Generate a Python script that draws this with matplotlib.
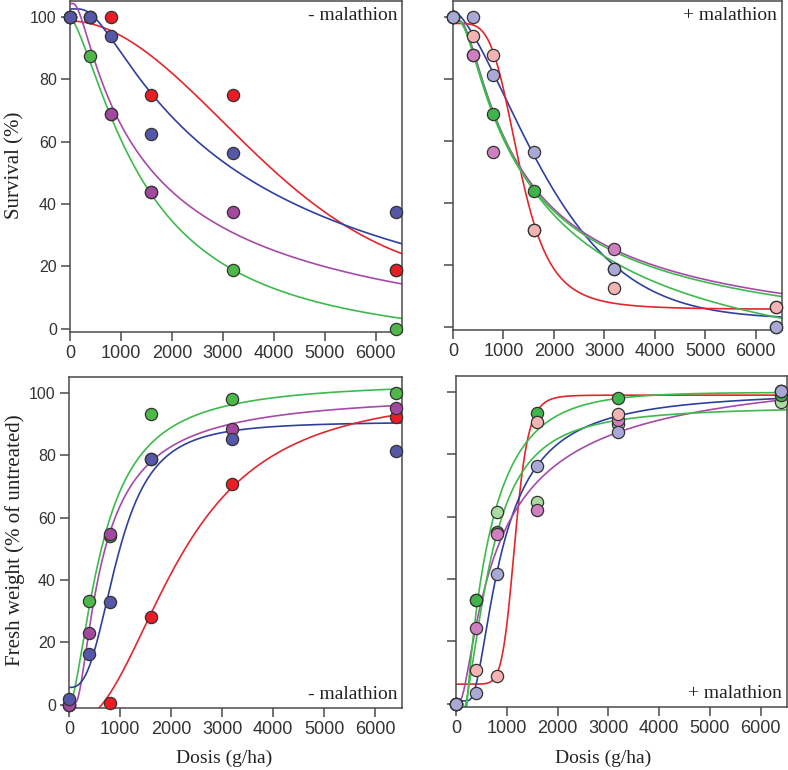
import numpy as np
import matplotlib
matplotlib.use("Agg")
import matplotlib.pyplot as plt

# doses used in every panel (g/ha)
DOSES = [0, 400, 800, 1600, 3200, 6400]

nan = np.nan
surv_minus_green = [100, 87.5, 68.75, 43.75, 18.75, 0]
surv_minus_purple = [100, 100, 68.75, 43.75, 37.5, 18.75]
surv_minus_red = [100, 100, 100, 75, 75, 18.75]
surv_minus_blue = [100, 100, 93.75, 62.5, 56.25, 37.5]

surv_plus_green = [100, 87.5, 68.75, 43.75, 18.75, 0]
surv_plus_orchid = [100, 87.5, 56.25, 31.25, 25, 6.25]
surv_plus_pink = [100, 93.75, 87.5, 31.25, 12.5, 6.25]
surv_plus_lavender = [100, 100, 81.25, 56.25, 18.75, 0]

fw_minus_red = [0, nan, 0.5, 28.3, 70.6, 92.2]
fw_minus_green = [0, 33.4, 54.0, 93.0, 97.9, 99.8]
fw_minus_purple = [0, 23.0, 54.8, 78.6, 88.4, 95.0]
fw_minus_blue = [1.9, 16.4, 32.9, 78.6, 85.0, 81.3]

fw_plus_lightgreen = [0, 33.4, 61.5, 64.7, 89.6, 96.6]
fw_plus_darkgreen = [0, 33.4, 54.9, 93.3, 97.9, 99.0]
fw_plus_orchid = [0, 24.4, 54.5, 62.0, 91.0, 100.3]
fw_plus_pink = [0, 10.7, 8.8, 90.4, 92.7, 100.3]
fw_plus_lavender = [0, 3.5, 41.5, 76.1, 87.2, 100.3]

# ---- fitted dose-response curves: (model, b, e, c, d) ----
# y = c + (d - c) * g(x);  LL: 1/(1+(x/e)^b), W1: exp(-(x/e)^b), W2: 1-exp(-(x/e)^b)
fit_surv_minus = {
    "red": ("W1", 1.933, 4376, 14.36, 98.59),
    "blue": ("W1", -0.751, 2905, 102.47, -27.26),
    "purple": ("W1", -0.686, 1240, 104.21, -19.53),
    "green": ("LL", 1.410, 1498, -8.80, 99.86),
}
fit_surv_plus = {
    "blue": ("W2", 1.475, 2187, 101.91, 2.53),
    "red": ("LL", 4.345, 1321, 5.65, 97.78),
    "purple": ("W1", -0.899, 1059, 98.88, -8.28),
    "green": ("W1", -0.860, 1059, 98.89, -11.00),
    "green2": ("W1", -0.786, 1280, 98.74, -28.02),
}
fit_fw_minus = {
    "green": ("LL", -1.614, 660, -0.39, 103.74),
    "purple": ("W2", -1.232, 529, 100.39, 0.29),
    "blue": ("LL", -2.770, 964, 5.58, 90.72),
    "red": ("LL", -2.314, 2187, -5.86, 101.09),
}
fit_fw_plus = {
    "red": ("LL", -8.926, 1164, 6.31, 98.87),
    "blue": ("W2", -1.689, 749, 100.43, 0.94),
    "purple": ("W2", -0.860, 640, 111.59, 0.70),
    "green": ("W2", 0.751, 425, -82.15, 99.77),
    "green2": ("LL", -1.933, 640, -9.34, 95.33),
}

LINE_COL = {"red": "#e3262b", "blue": "#2f3f9f", "green": "#3dba4b",
            "green2": "#3dba4b", "purple": "#a64aa9"}
MK_DARK = {"green": "#4db848", "purple": "#a2489f", "red": "#ec1c24", "blue": "#5558a8"}
MK_LIGHT = {"lavender": "#a9a8d6", "pink": "#f4b4b4", "orchid": "#cf7fbf",
            "darkgreen": "#3fb44a", "lightgreen": "#aadca2"}

SERIF = "Liberation Serif"
SANS = "Liberation Sans"
FRAME = "#4a4a4a"


def curve(params, x):
    model, b, e, c, d = params
    t = (x / e) ** b
    if model == "LL":
        g = 1.0 / (1.0 + t)
    elif model == "W1":
        g = np.exp(-t)
    else:
        g = 1.0 - np.exp(-t)
    return c + (d - c) * g


W, H = 788, 770
fig = plt.figure(figsize=(W / 100, H / 100), dpi=100)


def add_axes(left, top, right, bottom):
    return fig.add_axes([left / W, 1 - bottom / H, (right - left) / W, (bottom - top) / H])


ax_tl = add_axes(70, 1, 402, 332)
ax_tr = add_axes(453, 1, 782, 330)
ax_bl = add_axes(69, 377, 402, 708)
ax_br = add_axes(456, 376, 787, 707)

xs = np.linspace(1, 6600, 800)


def draw(ax, fits, points, label, label_top):
    for key, p in fits.items():
        ax.plot(xs, curve(p, xs), color=LINE_COL[key], lw=1.2, zorder=2)
    for vals, col in points:
        ax.plot(DOSES, vals, "o", ms=8.8, mfc=col, mec="#333333", mew=0.9,
                clip_on=False, zorder=3)
    ax.set_xlim(0, 6520)
    ax.set_ylim(-1, 105)
    ax.set_xticks(range(0, 7000, 1000))
    ax.set_yticks(range(0, 101, 20))
    for s in ax.spines.values():
        s.set_color(FRAME)
        s.set_linewidth(1.1)
    ax.tick_params(direction="out", length=6.5, width=1.1, color=FRAME)
    ax.tick_params(axis="x", labelsize=13, pad=3)
    ax.tick_params(axis="y", labelsize=11.5, pad=3)
    for t in ax.get_xticklabels() + ax.get_yticklabels():
        t.set_fontfamily(SANS)
        t.set_color("#333333")
    if label_top:
        ax.text(0.985, 0.955, label, transform=ax.transAxes, ha="right", va="center",
                fontsize=14, family=SERIF, color="#222222")
    else:
        ax.text(0.985, 0.04, label, transform=ax.transAxes, ha="right", va="center",
                fontsize=14, family=SERIF, color="#222222")


draw(ax_tl, fit_surv_minus,
     [(surv_minus_green, MK_DARK["green"]), (surv_minus_purple, MK_DARK["purple"]),
      (surv_minus_red, MK_DARK["red"]), (surv_minus_blue, MK_DARK["blue"])],
     "- malathion", True)
draw(ax_tr, fit_surv_plus,
     [(surv_plus_green, MK_LIGHT["darkgreen"]), (surv_plus_orchid, MK_LIGHT["orchid"]),
      (surv_plus_pink, MK_LIGHT["pink"]), (surv_plus_lavender, MK_LIGHT["lavender"])],
     "+ malathion", True)
draw(ax_bl, fit_fw_minus,
     [(fw_minus_red, MK_DARK["red"]), (fw_minus_green, MK_DARK["green"]),
      (fw_minus_purple, MK_DARK["purple"]), (fw_minus_blue, MK_DARK["blue"])],
     "- malathion", False)
draw(ax_br, fit_fw_plus,
     [(fw_plus_lightgreen, MK_LIGHT["lightgreen"]), (fw_plus_darkgreen, MK_LIGHT["darkgreen"]),
      (fw_plus_orchid, MK_LIGHT["orchid"]), (fw_plus_pink, MK_LIGHT["pink"]),
      (fw_plus_lavender, MK_LIGHT["lavender"])],
     "+ malathion", False)

ax_tr.set_yticklabels([])
ax_br.set_yticklabels([])

fig.text(15 / W, 1 - 165 / H, "Survival (%)", rotation=90, ha="center", va="center",
         fontsize=15, family=SERIF, color="#222222")
fig.text(15 / W, 1 - 540 / H, "Fresh weight (% of untreated)", rotation=90, ha="center",
         va="center", fontsize=15, family=SERIF, color="#222222")
fig.text(224 / W, 1 - 758 / H, "Dosis (g/ha)", ha="center", va="center",
         fontsize=14, family=SERIF, color="#222222")
fig.text(603 / W, 1 - 758 / H, "Dosis (g/ha)", ha="center", va="center",
         fontsize=14, family=SERIF, color="#222222")

fig.savefig("out.png", dpi=100)
